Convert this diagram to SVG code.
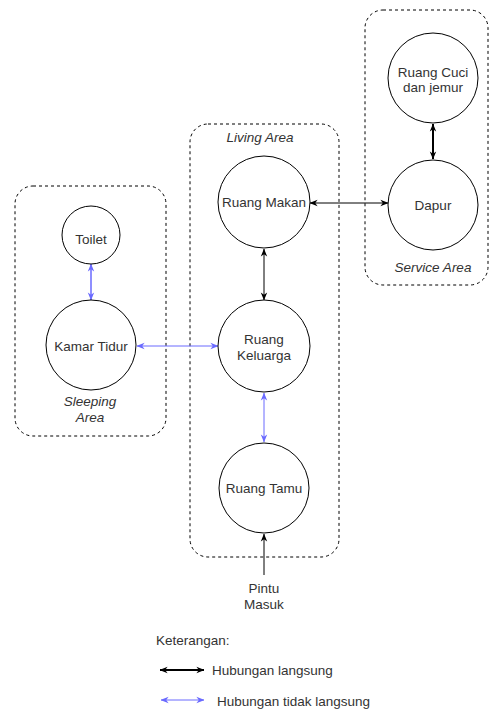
<svg xmlns="http://www.w3.org/2000/svg" width="490" height="711" viewBox="0 0 490 711">
<style>
  text { font-family: "Liberation Sans", Arial, sans-serif; font-size: 13.5px; fill: #333; text-anchor: middle; }
  .it { font-style: italic; }
  .lg { text-anchor: start; }
  .area { fill: none; stroke: #000; stroke-width: 1; stroke-dasharray: 3 3; }
  .node { fill: #fff; stroke: #000; stroke-width: 1; }
  .blk { stroke: #000; stroke-width: 1; fill: none; }
  .blu { stroke: #6a6aff; stroke-width: 1; fill: none; }
</style>
<defs>
  <marker id="ab" viewBox="0 0 10 10" refX="9.5" refY="5" markerWidth="8" markerHeight="8" markerUnits="userSpaceOnUse" orient="auto-start-reverse">
    <path d="M0,1 L10,5 L0,9 L3,5 z" fill="#000"/>
  </marker>
  <marker id="au" viewBox="0 0 10 10" refX="9.5" refY="5" markerWidth="8" markerHeight="8" markerUnits="userSpaceOnUse" orient="auto-start-reverse">
    <path d="M0,1 L10,5 L0,9 L3,5 z" fill="#6a6aff"/>
  </marker>
</defs>

<g id="areas">
  <g id="service-area">
    <rect class="area" x="365" y="10" width="123" height="275" rx="18"/>
    <text class="it" x="433" y="272">Service Area</text>
  </g>
  <g id="living-area">
    <rect class="area" x="190" y="124" width="149" height="433" rx="18"/>
    <text class="it" x="260" y="142">Living Area</text>
  </g>
  <g id="sleeping-area">
    <rect class="area" x="15" y="186" width="151" height="250" rx="18"/>
    <text class="it" x="90" y="406">Sleeping</text>
    <text class="it" x="90" y="422">Area</text>
  </g>
</g>

<g id="connectors">
  <line class="blk" x1="310" y1="203" x2="388" y2="203" marker-start="url(#ab)" marker-end="url(#ab)"/>
  <line class="blk" style="stroke-width:2" x1="433" y1="124" x2="433" y2="159" marker-start="url(#ab)" marker-end="url(#ab)"/>
  <line class="blk" x1="264" y1="249" x2="264" y2="300" marker-start="url(#ab)" marker-end="url(#ab)"/>
  <line class="blu" x1="137" y1="346" x2="218" y2="346" marker-start="url(#au)" marker-end="url(#au)"/>
  <line class="blu" style="stroke-width:1.5" x1="91" y1="264" x2="91" y2="300" marker-start="url(#au)" marker-end="url(#au)"/>
  <line class="blu" x1="264" y1="393" x2="264" y2="442" marker-start="url(#au)" marker-end="url(#au)"/>
  <line class="blk" x1="264" y1="575" x2="264" y2="534" marker-end="url(#ab)"/>
</g>

<g id="ruang-cuci">
  <circle class="node" cx="433" cy="78" r="45"/>
  <text x="433" y="77">Ruang Cuci</text>
  <text x="433" y="92">dan jemur</text>
</g>
<g id="dapur">
  <circle class="node" cx="433" cy="205" r="45"/>
  <text x="433" y="210">Dapur</text>
</g>
<g id="ruang-makan">
  <circle class="node" cx="264" cy="202" r="46"/>
  <text x="264" y="207">Ruang Makan</text>
</g>
<g id="ruang-keluarga">
  <circle class="node" cx="264" cy="346" r="46"/>
  <text x="264" y="344">Ruang</text>
  <text x="264" y="360">Keluarga</text>
</g>
<g id="ruang-tamu">
  <circle class="node" cx="264" cy="488" r="45"/>
  <text x="264" y="493">Ruang Tamu</text>
</g>
<g id="toilet">
  <circle class="node" cx="91" cy="235" r="29"/>
  <text x="91" y="244">Toilet</text>
</g>
<g id="kamar-tidur">
  <circle class="node" cx="91" cy="345" r="45"/>
  <text x="91" y="351">Kamar Tidur</text>
</g>
<g id="pintu-masuk">
  <text x="264" y="593">Pintu</text>
  <text x="264" y="609">Masuk</text>
</g>

<g id="legend">
  <text class="lg" x="156" y="645">Keterangan:</text>
  <line class="blk" style="stroke-width:2" x1="160" y1="670" x2="204" y2="670" marker-start="url(#ab)" marker-end="url(#ab)"/>
  <text class="lg" x="212" y="675">Hubungan langsung</text>
  <line class="blu" x1="161" y1="700" x2="204" y2="700" marker-start="url(#au)" marker-end="url(#au)"/>
  <text class="lg" x="217" y="706">Hubungan tidak langsung</text>
</g>
</svg>
